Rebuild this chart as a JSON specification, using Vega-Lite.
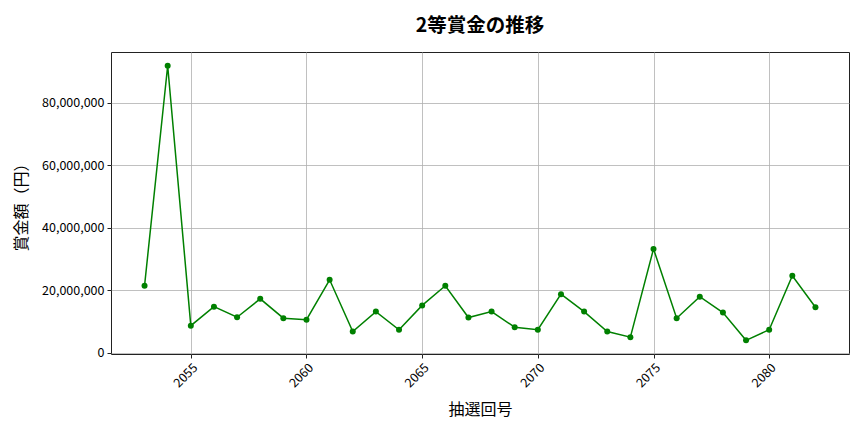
{
  "$schema": "https://vega.github.io/schema/vega-lite/v6.json",
  "autosize": "none",
  "width": 738,
  "height": 302,
  "padding": {"left": 111, "top": 52, "right": 15, "bottom": 78},
  "background": "white",
  "title": {
    "text": "2等賞金の推移",
    "font": "Noto Sans CJK JP",
    "fontSize": 19.5,
    "fontWeight": "bold",
    "color": "black",
    "offset": 16
  },
  "data": {
    "values": [
      {"draw": 2053, "prize": 21400000},
      {"draw": 2054, "prize": 91900000},
      {"draw": 2055, "prize": 8600000},
      {"draw": 2056, "prize": 14700000},
      {"draw": 2057, "prize": 11300000},
      {"draw": 2058, "prize": 17200000},
      {"draw": 2059, "prize": 11000000},
      {"draw": 2060, "prize": 10500000},
      {"draw": 2061, "prize": 23300000},
      {"draw": 2062, "prize": 6700000},
      {"draw": 2063, "prize": 13100000},
      {"draw": 2064, "prize": 7300000},
      {"draw": 2065, "prize": 15100000},
      {"draw": 2066, "prize": 21400000},
      {"draw": 2067, "prize": 11200000},
      {"draw": 2068, "prize": 13100000},
      {"draw": 2069, "prize": 8100000},
      {"draw": 2070, "prize": 7300000},
      {"draw": 2071, "prize": 18700000},
      {"draw": 2072, "prize": 13100000},
      {"draw": 2073, "prize": 6700000},
      {"draw": 2074, "prize": 4900000},
      {"draw": 2075, "prize": 33200000},
      {"draw": 2076, "prize": 11000000},
      {"draw": 2077, "prize": 17900000},
      {"draw": 2078, "prize": 12800000},
      {"draw": 2079, "prize": 3900000},
      {"draw": 2080, "prize": 7300000},
      {"draw": 2081, "prize": 24600000},
      {"draw": 2082, "prize": 14500000}
    ]
  },
  "encoding": {
    "x": {
      "field": "draw",
      "type": "quantitative",
      "scale": {"domain": [2051.55, 2083.45], "nice": false, "zero": false},
      "axis": {
        "title": "抽選回号",
        "values": [2055, 2060, 2065, 2070, 2075, 2080],
        "format": "d",
        "labelAngle": -45,
        "labelAlign": "right",
        "labelBaseline": "top",
        "titlePadding": 12
      }
    },
    "y": {
      "field": "prize",
      "type": "quantitative",
      "scale": {"domain": [-480000, 96300000], "nice": false, "zero": false},
      "axis": {
        "title": "賞金額（円）",
        "values": [0, 20000000, 40000000, 60000000, 80000000],
        "format": ",d",
        "titlePadding": 12
      }
    }
  },
  "layer": [
    {
      "mark": {"type": "line", "color": "#008000", "strokeWidth": 1.5}
    },
    {
      "mark": {"type": "point", "filled": true, "opacity": 1, "color": "#008000", "size": 36}
    }
  ],
  "config": {
    "view": {"stroke": "#222222", "strokeWidth": 1},
    "axis": {
      "domain": false,
      "grid": true,
      "gridColor": "#b0b0b0",
      "gridWidth": 0.8,
      "tickColor": "#222222",
      "tickSize": 4,
      "labelFont": "Noto Sans CJK JP",
      "labelFontSize": 12.5,
      "labelColor": "black",
      "labelPadding": 3,
      "titleFont": "Noto Sans CJK JP",
      "titleFontSize": 16,
      "titleFontWeight": "normal",
      "titleColor": "black"
    }
  }
}
